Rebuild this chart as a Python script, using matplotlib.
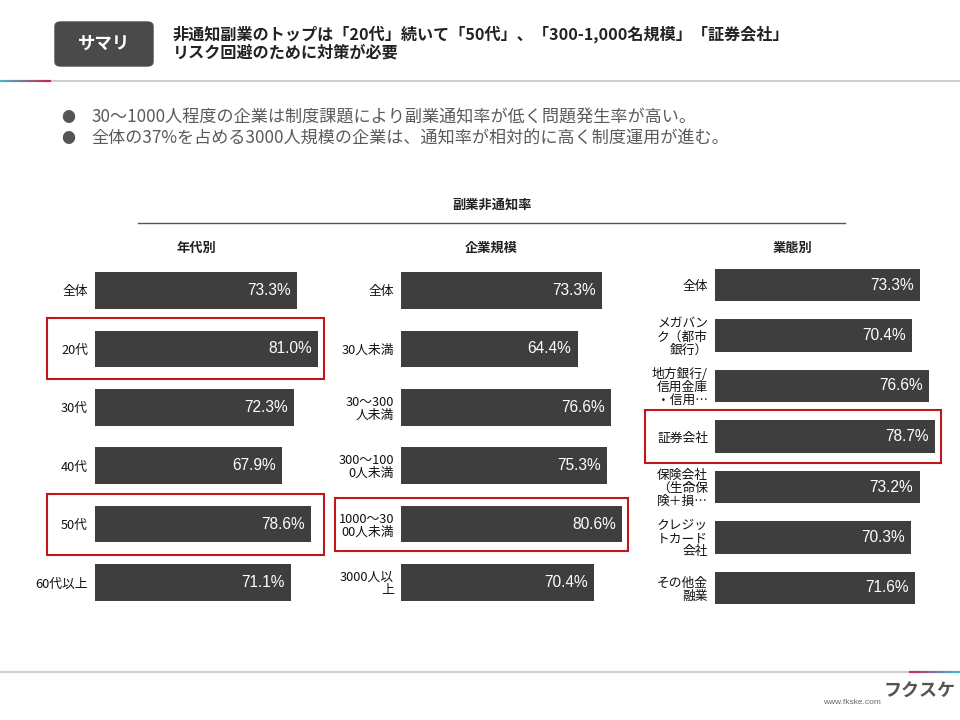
import numpy as np
import matplotlib.pyplot as plt
from matplotlib.patches import Rectangle, FancyBboxPatch
from matplotlib.lines import Line2D

plt.rcParams['font.family'] = ['Noto Sans CJK JP', 'DejaVu Sans']

# data
age_labels = ['全体', '20代', '30代', '40代', '50代', '60代以上']
age_values = [73.3, 81.0, 72.3, 67.9, 78.6, 71.1]
age_highlight = [1, 4]

size_labels = ['全体', '30人未満', '30～300\n人未満', '300～100\n0人未満',
               '1000～30\n00人未満', '3000人以\n上']
size_values = [73.3, 64.4, 76.6, 75.3, 80.6, 70.4]
size_highlight = [4]

ind_labels = ['全体', 'メガバン\nク（都市\n銀行）', '地方銀行/\n信用金庫\n・信用…', '証券会社',
              '保険会社\n（生命保\n険＋損…', 'クレジッ\nトカード\n会社', 'その他金\n融業']
ind_values = [73.3, 70.4, 76.6, 78.7, 73.2, 70.3, 71.6]
ind_highlight = [3]

W, H = 960, 720
fig = plt.figure(figsize=(W / 100, H / 100), dpi=100)
fig.patch.set_facecolor('white')


def fx(x):
    return x / W


def fy(y):
    return 1 - y / H


# header
fig.add_artist(FancyBboxPatch((fx(55), fy(66)), fx(98), 44 / H,
                              boxstyle='round,pad=0,rounding_size=0.006',
                              transform=fig.transFigure, color='#4a4a4a'))
fig.text(fx(104), fy(44), 'サマリ', color='white', fontsize=12.5,
         ha='center', va='center', fontweight='bold')
fig.text(fx(173), fy(34), '非通知副業のトップは「20代」続いて「50代」、「300-1,000名規模」「証券会社」',
         fontsize=11.6, va='center', color='#222222', fontweight='bold')
fig.text(fx(173), fy(53), 'リスク回避のために対策が必要',
         fontsize=11.6, va='center', color='#222222', fontweight='bold')


def grad_line(x0, x1, y, c0, c1, n=30, lw=1.5):
    xs = np.linspace(x0, x1, n + 1)
    cols = np.linspace(np.array(c0), np.array(c1), n)
    for k in range(n):
        fig.add_artist(Line2D([fx(xs[k]), fx(xs[k + 1])], [fy(y), fy(y)],
                              color=cols[k], lw=lw, transform=fig.transFigure))


fig.add_artist(Line2D([fx(50), fx(960)], [fy(81), fy(81)], color='#cfcfcf', lw=1.5,
                      transform=fig.transFigure))
grad_line(0, 50, 81, (0.25, 0.72, 0.80), (0.78, 0.16, 0.36))

fig.add_artist(Line2D([fx(0), fx(910)], [fy(672), fy(672)], color='#cfcfcf', lw=1.5,
                      transform=fig.transFigure))
grad_line(910, 960, 672, (0.78, 0.16, 0.36), (0.25, 0.72, 0.85))

# bullets
bullets = ['30～1000人程度の企業は制度課題により副業通知率が低く問題発生率が高い。',
           '全体の37%を占める3000人規模の企業は、通知率が相対的に高く制度運用が進む。']
for k, b in enumerate(bullets):
    yy = 118 + 21 * k
    fig.text(fx(61), fy(yy), '●', fontsize=10, va='center', color='#555555')
    fig.text(fx(91), fy(yy), b, fontsize=12.3, va='center', color='#5a5a5a')

# chart titles
fig.text(fx(492), fy(205), '副業非通知率', fontsize=9.5, ha='center', va='center',
         color='#222222', fontweight='bold')
fig.add_artist(Line2D([fx(138), fx(845)], [fy(223), fy(223)], color='#555555', lw=1,
                      transform=fig.transFigure))

# footer
fig.text(fx(852), fy(703), 'www.fkske.com', fontsize=6, ha='center', va='center',
         color='#666666', family=['Liberation Sans'])
fig.text(fx(920), fy(691), 'フクスケ', fontsize=13, ha='center', va='center',
         color='#555555', fontweight='bold')

panels = [
    # labels, values, highlight, title, title_x, bar x0, px per %, first row y, pitch, box left, box half
    (age_labels, age_values, age_highlight, '年代別', 196, 95, 2.753, 290.5, 58.4, 48, 30.5),
    (size_labels, size_values, size_highlight, '企業規模', 491, 401, 2.742, 290.5, 58.4, 66, 26.5),
    (ind_labels, ind_values, ind_highlight, '業態別', 793, 715, 2.795, 285, 50.5, 70, 26.5),
]

for labels, values, hl, title, tx, x0, sc, y0, pitch, bl, bh in panels:
    n = len(values)
    top = y0 - pitch / 2
    bottom = y0 + pitch * (n - 0.5)
    ax = fig.add_axes([fx(x0), fy(bottom), fx(100 * sc), (bottom - top) / H])
    ax.set_facecolor('none')
    pos = np.arange(n)
    ax.barh(pos, values, height=0.63 if pitch > 55 else 0.64, color='#3e3e3e')
    ax.set_xlim(0, 100)
    ax.set_ylim(n - 0.5, -0.5)
    ax.set_yticks(pos)
    ax.set_yticklabels(labels, fontsize=9.2, linespacing=1.0, color='#111111')
    ax.tick_params(axis='y', length=0, pad=5)
    ax.set_xticks([])
    for s in ax.spines.values():
        s.set_visible(False)
    for p, v in zip(pos, values):
        ax.annotate(f'{v:.1f}%', (v, p), xytext=(-4.5, 0), textcoords='offset points',
                    ha='right', va='center', color='white', fontsize=11.2,
                    family=['Liberation Sans'])
    right = max(values) + 6 / sc
    for h in hl:
        half = bh / pitch
        ax.add_patch(Rectangle((-bl / sc, h - half), right + bl / sc, 2 * half,
                               fill=False, edgecolor='#c0171d', lw=1.5, clip_on=False))
    fig.text(fx(tx), fy(248), title, fontsize=9.5, ha='center', va='center',
             color='#222222', fontweight='bold')

fig.savefig('out.png', dpi=100)
